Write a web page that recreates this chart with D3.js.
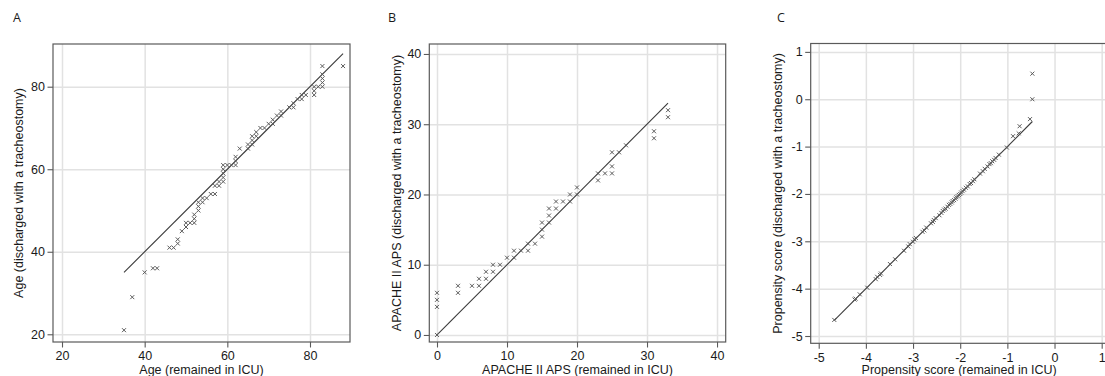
<!DOCTYPE html>
<html>
<head>
<meta charset="utf-8">
<script src="https://cdn.jsdelivr.net/npm/d3@7"></script>
<style>
  body { margin: 0; background: #fff; }
  svg { display: block; }
</style>
</head>
<body>
<div id="chart"></div>
<script>
// Q-Q pairs: [remained in ICU, discharged with a tracheostomy]
const ageQQ = [
  [35, 21], [37, 29], [40, 35], [42, 36], [43, 36], [46, 41], [47, 41], [48, 42], [48, 43], [49, 45],
  [50, 46], [50, 47], [51, 47], [52, 47], [52, 48], [52, 49], [53, 50], [53, 51], [53, 52], [54, 52],
  [54, 53], [55, 53], [56, 54], [57, 54], [57, 56], [58, 56], [58, 57], [59, 57], [59, 58], [59, 59],
  [59, 60], [59, 61], [60, 61], [61, 61], [62, 61], [62, 62], [62, 63], [63, 65], [65, 65], [65, 66],
  [66, 66], [66, 67], [66, 68], [67, 68], [67, 69], [68, 70], [69, 70], [70, 71], [71, 71], [71, 72],
  [72, 73], [73, 73], [73, 74], [75, 75], [76, 75], [76, 76], [77, 77], [78, 77], [78, 78], [79, 78],
  [81, 78], [81, 79], [81, 80], [82, 80], [83, 80], [83, 81], [83, 82], [83, 83], [83, 85], [88, 85]
];

const apsQQ = [
  [0, 0], [0, 4], [0, 5], [0, 6], [3, 6], [3, 7], [5, 7], [6, 7], [6, 8], [7, 8],
  [7, 9], [8, 9], [8, 10], [9, 10], [10, 11], [11, 11], [11, 12], [12, 12], [13, 12], [13, 13],
  [14, 13], [15, 14], [15, 15], [15, 16], [16, 16], [16, 17], [16, 18], [17, 18], [17, 19], [18, 19],
  [19, 19], [19, 20], [20, 20], [20, 21], [23, 22], [23, 23], [24, 23], [25, 23], [25, 24], [25, 26],
  [26, 26], [27, 27], [31, 28], [31, 29], [33, 31], [33, 32]
];

const propensityQQ = [
  [-4.67, -4.66], [-4.24, -4.23], [-4.22, -4.21], [-4.13, -4.12], [-3.97, -3.98], [-3.79, -3.80],
  [-3.76, -3.75], [-3.70, -3.71], [-3.68, -3.68], [-3.49, -3.48], [-3.38, -3.38], [-3.19, -3.20],
  [-3.10, -3.11], [-3.07, -3.06], [-3.00, -3.01], [-2.97, -2.96], [-2.94, -2.93], [-2.80, -2.80],
  [-2.76, -2.77], [-2.72, -2.71], [-2.62, -2.62], [-2.58, -2.59], [-2.56, -2.55], [-2.52, -2.51],
  [-2.44, -2.45], [-2.40, -2.40], [-2.37, -2.36], [-2.34, -2.33], [-2.31, -2.31], [-2.27, -2.27],
  [-2.24, -2.23], [-2.21, -2.21], [-2.18, -2.18], [-2.16, -2.15], [-2.13, -2.13], [-2.10, -2.10],
  [-2.08, -2.07], [-2.05, -2.05], [-2.03, -2.02], [-2.00, -2.00], [-1.98, -1.97], [-1.95, -1.94],
  [-1.92, -1.91], [-1.88, -1.87], [-1.84, -1.84], [-1.80, -1.79], [-1.77, -1.77], [-1.73, -1.73],
  [-1.70, -1.69], [-1.58, -1.57], [-1.52, -1.52], [-1.48, -1.47], [-1.42, -1.42], [-1.38, -1.37],
  [-1.35, -1.35], [-1.32, -1.31], [-1.28, -1.28], [-1.25, -1.24], [-1.18, -1.17], [-1.01, -1.02],
  [-0.88, -0.78], [-0.76, -0.72], [-0.74, -0.57], [-0.52, -0.42], [-0.47, 0.00], [-0.47, 0.54]
];

const ageTicks = [20, 40, 60, 80];
const apsTicks = [0, 10, 20, 30, 40];
const propensityTicks = [-5, -4, -3, -2, -1, 0, 1];

const panels = [
  {
    letter: 'A', data: ageQQ, ticks: ageTicks,
    xTitle: 'Age (remained in ICU)', yTitle: 'Age (discharged with a tracheostomy)',
    box: { left: 53, right: 350, top: 44, bottom: 342 },
    xDomain: [17.82, 89.68], yDomain: [18.13, 90.35],
    letterX: 13, yTitleX: 23
  },
  {
    letter: 'B', data: apsQQ, ticks: apsTicks,
    xTitle: 'APACHE II APS (remained in ICU)', yTitle: 'APACHE II APS (discharged with a tracheostomy)',
    box: { left: 429.3, right: 725.7, top: 44, bottom: 342 },
    xDomain: [-1.10, 41.24], yDomain: [-1.0, 41.42],
    letterX: 388, yTitleX: 401
  },
  {
    letter: 'C', data: propensityQQ, ticks: propensityTicks,
    xTitle: 'Propensity score (remained in ICU)', yTitle: 'Propensity score (discharged with a tracheostomy)',
    box: { left: 810.7, right: 1109.7, top: 43.5, bottom: 343.3 },
    xDomain: [-5.17, 1.17], yDomain: [-5.154, 1.177],
    letterX: 777, yTitleX: 782
  }
];

const W = 1105, H = 376;
const FONT = '"Liberation Sans", Arial, sans-serif';
// plain hyphen for negatives, as in the original
const fmt = d => String(d);

const svg = d3.select('#chart').append('svg')
  .attr('width', W)
  .attr('height', H)
  .attr('viewBox', `0 0 ${W} ${H}`);

panels.forEach(p => {
  const b = p.box;
  const x = d3.scaleLinear().domain(p.xDomain).range([b.left, b.right]);
  const y = d3.scaleLinear().domain(p.yDomain).range([b.bottom, b.top]);
  const g = svg.append('g');

  // gridlines
  g.append('g')
    .attr('transform', `translate(0,${b.bottom})`)
    .call(d3.axisBottom(x).tickValues(p.ticks).tickSize(-(b.bottom - b.top)).tickFormat(''))
    .call(s => s.select('.domain').remove())
    .selectAll('line').attr('stroke', '#e2e2e2').attr('stroke-width', 1.5);
  g.append('g')
    .attr('transform', `translate(${b.left},0)`)
    .call(d3.axisLeft(y).tickValues(p.ticks).tickSize(-(b.right - b.left)).tickFormat(''))
    .call(s => s.select('.domain').remove())
    .selectAll('line').attr('stroke', '#e2e2e2').attr('stroke-width', 1.5);

  // frame
  g.append('rect')
    .attr('x', b.left).attr('y', b.top)
    .attr('width', b.right - b.left).attr('height', b.bottom - b.top)
    .attr('fill', 'none').attr('stroke', '#5a5a5a').attr('stroke-width', 1.2);

  // axes
  const xAxis = g.append('g')
    .attr('transform', `translate(0,${b.bottom})`)
    .call(d3.axisBottom(x).tickValues(p.ticks).tickSize(5.5).tickPadding(4).tickFormat(fmt));
  const yAxis = g.append('g')
    .attr('transform', `translate(${b.left},0)`)
    .call(d3.axisLeft(y).tickValues(p.ticks).tickSize(5.5).tickPadding(2.5).tickFormat(fmt));
  [xAxis, yAxis].forEach(a => {
    a.select('.domain').remove();
    a.selectAll('line').attr('stroke', '#5a5a5a').attr('stroke-width', 1.1);
    a.selectAll('text').attr('fill', '#1a1a1a').style('font-family', FONT).style('font-size', '12.5px');
  });

  // line of equality over the range of x
  const ext = d3.extent(p.data, d => d[0]);
  const line = d3.line().x(d => x(d[0])).y(d => y(d[1]));
  g.append('path')
    .attr('d', line([[ext[0], ext[0]], [ext[1], ext[1]]]))
    .attr('fill', 'none').attr('stroke', '#3a3a3a').attr('stroke-width', 1.1);

  // markers
  g.selectAll('path.pt')
    .data(p.data)
    .enter().append('path')
    .attr('class', 'pt')
    .attr('transform', d => 'translate(' + [x(d[0]), y(d[1])] + ')')
    .attr('d', 'M-2,-2L2,2M-2,2L2,-2')
    .attr('fill', 'none').attr('stroke', '#5c5c5c').attr('stroke-width', 1);

  // titles
  g.append('text')
    .attr('x', (b.left + Math.min(b.right, b.left + 297)) / 2)
    .attr('y', 374)
    .attr('text-anchor', 'middle')
    .style('font-family', FONT).style('font-size', '12.5px').attr('fill', '#1a1a1a')
    .text(p.xTitle);
  g.append('text')
    .attr('transform', `translate(${p.yTitleX},${(b.top + b.bottom) / 2})rotate(-90)`)
    .attr('text-anchor', 'middle')
    .style('font-family', FONT).style('font-size', '12.5px').attr('fill', '#1a1a1a')
    .text(p.yTitle);
  g.append('text')
    .attr('x', p.letterX).attr('y', 22)
    .style('font-family', '"Open Sans", sans-serif').style('font-size', '12.5px').attr('fill', '#1a1a1a')
    .text(p.letter);
});
</script>
</body>
</html>
